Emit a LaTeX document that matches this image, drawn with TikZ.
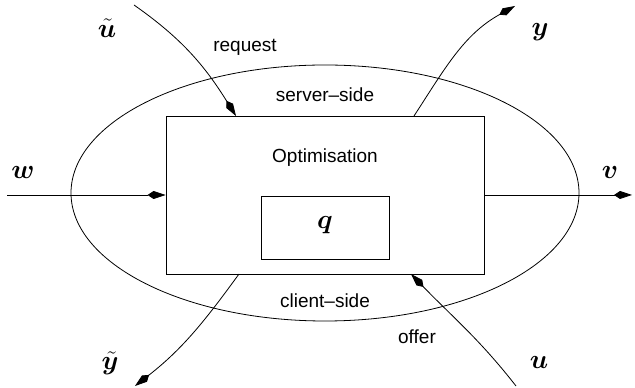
\RequirePackage{fix-cm}
\documentclass[tikz,border=0pt]{standalone}
\usepackage{bm}
\usepackage{fontspec}
\newfontfamily\lblfont{Liberation Sans}
\usetikzlibrary{arrows.meta,shapes.geometric}
\tikzset{
  conn/.style={line width=0.8pt, -{Kite[length=18pt,width=8pt,inset=6pt]}},
  boxnode/.style={draw, line width=0.8pt, rectangle, inner sep=0pt},
  txt/.style={inner sep=0pt, font=\lblfont\fontsize{19}{22}\selectfont},
  mth/.style={inner sep=0pt, font=\fontsize{27}{32}\selectfont},
}
\begin{document}
\begin{tikzpicture}[x=1pt,y=1pt]
\useasboundingbox (0,0) rectangle (635,388);
\node[draw, line width=0.8pt, ellipse, minimum width=508pt, minimum height=256pt, inner sep=0pt] (ell) at (325,195) {};
\node[boxnode, minimum width=318pt, minimum height=158pt] (box) at (325,193) {};
\node[boxnode, minimum width=128pt, minimum height=63pt] (inner) at (325,160.5) {};
\node[mth] (q) at (325,163) {$\bm{q}$};
\node[txt] (opt) at (325,230) {Optimisation};
\node[txt] (server) at (325,293) {server–side};
\node[txt] (client) at (325,87) {client–side};
\node[txt] (request) at (245,341) {request};
\node[txt] (offer) at (417,51) {offer};
\node[mth] (lut) at (107,360) {$\tilde{\bm{u}}$};
\node[mth] (ly) at (540,356) {$\bm{y}$};
\node[mth] (lv) at (610,215) {$\bm{v}$};
\node[mth] (lw) at (23,215) {$\bm{w}$};
\node[mth] (lyt) at (110,25) {$\tilde{\bm{y}}$};
\node[mth] (lu) at (539,25) {$\bm{u}$};
\coordinate (wst) at (7,193);
\coordinate (ven) at (632,193);
\coordinate (uts) at (134,383);
\coordinate (ute) at (236,272);
\coordinate (ys) at (414,272);
\coordinate (ye) at (515,382);
\coordinate (yts) at (239,114);
\coordinate (yte) at (135,2);
\coordinate (us) at (516,2);
\coordinate (ue) at (411,114);
\draw[conn] (wst) -- (box.west);
\draw[conn] (box.east) -- (ven);
\draw[conn] (uts) to[out=-35, in=122] (ute);
\draw[conn] (ys) to[out=57, in=-151] (ye);
\draw[conn] (yts) to[out=-126, in=38] (yte);
\draw[conn] (us) to[out=128, in=-46] (ue);
\end{tikzpicture}
\end{document}
